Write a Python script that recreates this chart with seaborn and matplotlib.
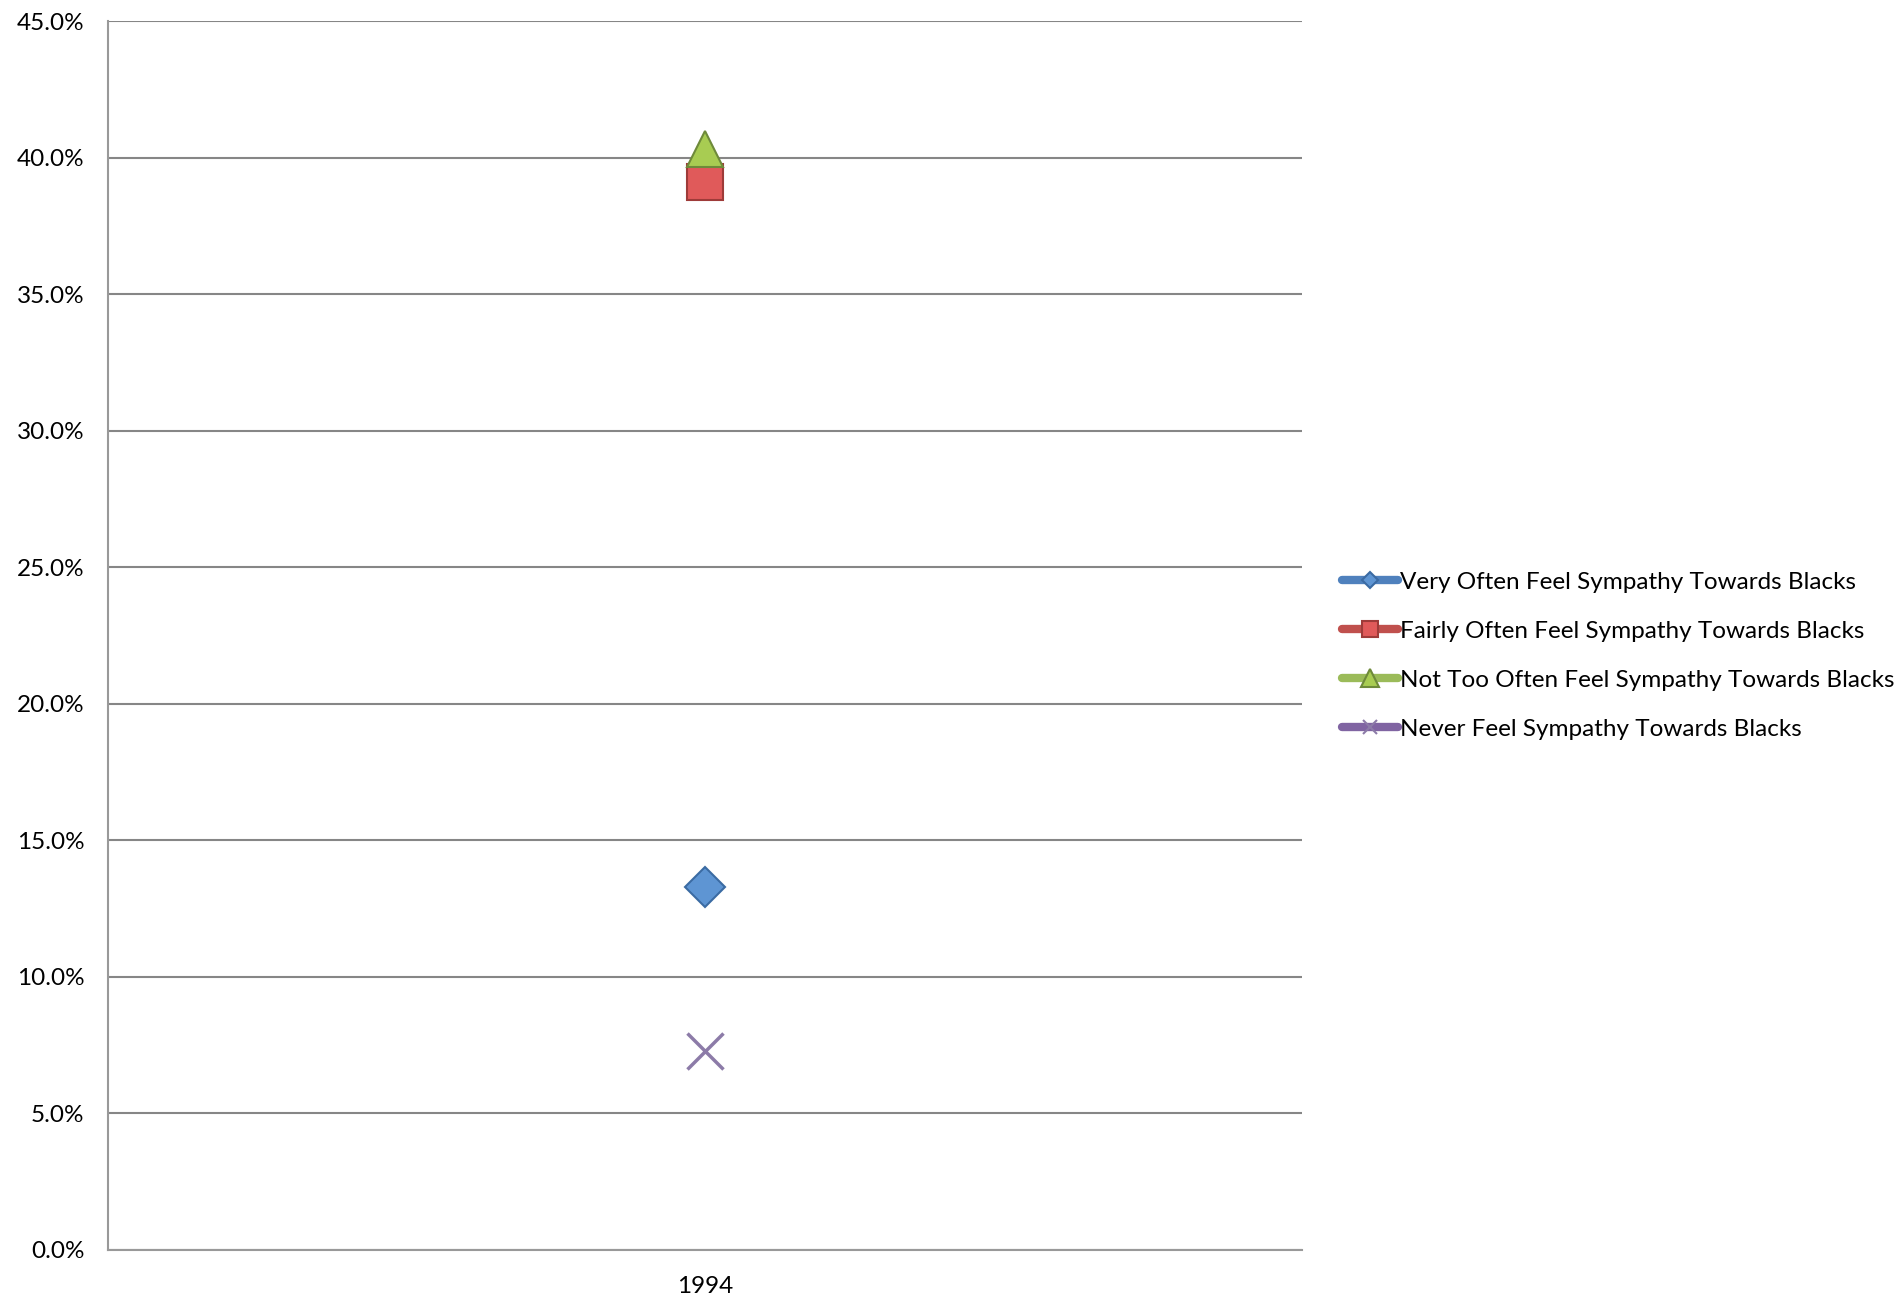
import matplotlib
matplotlib.use('Agg')
import matplotlib.pyplot as plt
from matplotlib.lines import Line2D
from matplotlib.ticker import FuncFormatter
import pandas as pd
import seaborn as sns

# ── Data ──────────────────────────────────────────────────────────────────────
years = ['1994']
series = [
    'Very Often Feel Sympathy Towards Blacks',
    'Fairly Often Feel Sympathy Towards Blacks',
    'Not Too Often Feel Sympathy Towards Blacks',
    'Never Feel Sympathy Towards Blacks',
]
values = [13.3, 39.1, 40.3, 7.3]
y_ticks = [0, 5, 10, 15, 20, 25, 30, 35, 40, 45]

line_colors = ['#4F81BD', '#C0504D', '#9BBB59', '#8064A2']
face_colors = ['#5E95D3', '#E05A5A', '#A8CC52', '#8C7BA8']
edge_colors = ['#3B6BA3', '#9E3B39', '#6E8A3A', '#8C7BA8']
markers = ['D', 's', '^', 'x']
marker_sizes = [20, 26.5, 26.5, 26.5]
legend_marker_sizes = [8, 12, 13, 10]

df = pd.DataFrame({'year': years * len(series), 'series': series,
                   'value': values})
df['xpos'] = 0

sns.set_style('white')
plt.rcParams['font.family'] = ['Lato', 'DejaVu Sans']
plt.rcParams['text.color'] = 'black'
plt.rcParams['xtick.color'] = 'black'
plt.rcParams['ytick.color'] = 'black'

fig = plt.figure(figsize=(19.03, 13.0), dpi=100)
ax = fig.add_axes([0.0568, 0.0385, 0.6274, 0.9453])

ax.yaxis.grid(True, color='#868686', linewidth=1.5)
ax.set_axisbelow(True)

for i, s in enumerate(series):
    sub = df[df['series'] == s]
    sns.lineplot(data=sub, x='xpos', y='value', ax=ax, legend=False,
                 marker=markers[i], markersize=marker_sizes[i],
                 markerfacecolor=face_colors[i], markeredgecolor=edge_colors[i],
                 markeredgewidth=2.5 if markers[i] == 'x' else 1.5,
                 color=line_colors[i], zorder=3 + (i == 2))

ax.set_xlim(-0.5, 0.5)
ax.set_ylim(0, 45)
ax.set_yticks(y_ticks)
ax.yaxis.set_major_formatter(FuncFormatter(lambda v, p: f'{v:.1f}%'))
ax.set_xticks([-0.5, 0.5])
ax.set_xticklabels(['', ''])
ax.set_xticks([0], minor=True)
ax.set_xticklabels(years, minor=True)
ax.tick_params(axis='x', which='minor', length=0, pad=19, labelsize=17.5,
               labelcolor='black')
ax.tick_params(axis='x', which='major', length=7, width=1.5, color='#999999',
               direction='out')
ax.tick_params(axis='y', length=7, width=1.5, color='#999999', pad=10,
               labelsize=17.5, labelcolor='black', direction='out')
ax.set_xlabel('')
ax.set_ylabel('')

for side in ['top', 'right']:
    ax.spines[side].set_visible(False)
for side in ['left', 'bottom']:
    ax.spines[side].set_color('#999999')
    ax.spines[side].set_linewidth(1.5)

handles = [Line2D([], [], color=line_colors[i], linewidth=6,
                  solid_capstyle='round', marker=markers[i],
                  markersize=legend_marker_sizes[i],
                  markerfacecolor=face_colors[i], markeredgecolor=edge_colors[i],
                  markeredgewidth=1.5)
           for i in range(len(series))]
leg = fig.legend(handles, series, loc='center left',
                 bbox_to_anchor=(0.700, 0.4955), frameon=False, fontsize=17.5,
                 handlelength=2.3, handletextpad=0.1, labelspacing=1.15,
                 borderaxespad=0)
for t in leg.get_texts():
    t.set_color('black')

plt.savefig('out.png', dpi=100)
plt.close()
